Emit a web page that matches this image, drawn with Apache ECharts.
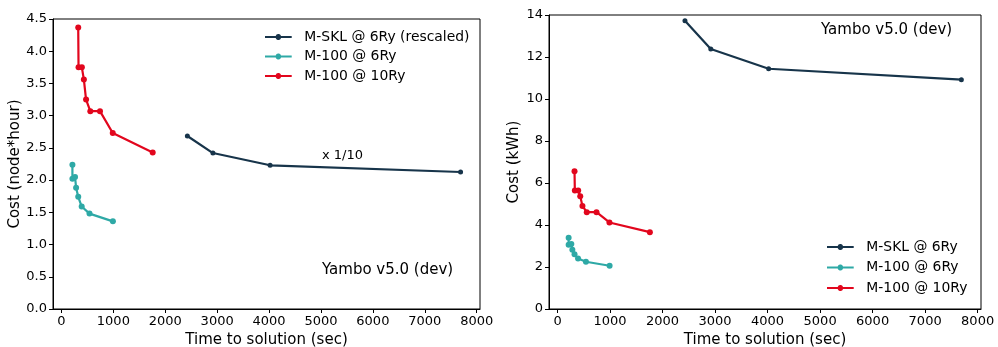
<!DOCTYPE html>
<html>
<head>
<meta charset="utf-8">
<script src="https://cdn.jsdelivr.net/npm/echarts@6/dist/echarts.min.js"></script>
<style>
  html, body { margin: 0; padding: 0; background: #fff; }
  #chart { width: 998px; height: 347px; }
</style>
</head>
<body>
<div id="chart"></div>
<script>
// Time to solution (sec) for each run
const sklTime = [2426, 2918, 4020, 7690];
const m100Ry6Time = [211, 211, 262, 282, 323, 390, 540, 991];
const m100Ry10Time = [323, 329, 393, 432, 474, 556, 742, 988, 1758];

// Cost in node*hour (M-SKL values rescaled by 1/10)
const sklNodeHour = [2.685, 2.42, 2.23, 2.126];
const m100Ry6NodeHour = [2.24, 2.02, 2.05, 1.88, 1.74, 1.59, 1.48, 1.36];
const m100Ry10NodeHour = [4.37, 3.75, 3.75, 3.56, 3.25, 3.07, 3.07, 2.73, 2.43];

// Cost in kWh
const sklKwh = [13.73, 12.38, 11.44, 10.92];
const m100Ry6Kwh = [3.39, 3.06, 3.10, 2.82, 2.61, 2.40, 2.25, 2.06];
const m100Ry10Kwh = [6.56, 5.64, 5.64, 5.37, 4.91, 4.61, 4.61, 4.12, 3.66];

const xTicks = [0, 1000, 2000, 3000, 4000, 5000, 6000, 7000, 8000];
const seriesNamesLeft = ['M-SKL @ 6Ry (rescaled)', 'M-100 @ 6Ry', 'M-100 @ 10Ry'];
const seriesNamesRight = ['M-SKL @ 6Ry', 'M-100 @ 6Ry', 'M-100 @ 10Ry'];

const FONT = 'DejaVu Sans';
const C_SKL = '#17344a';
const C_6RY = '#2ea9a6';
const C_10RY = '#e2061d';

const zip = (xs, ys) => xs.map((x, i) => [x, ys[i]]);

function xAxisFor(gridIndex) {
  return {
    type: 'value', gridIndex,
    min: -163, max: 8064,
    name: 'Time to solution (sec)',
    nameLocation: 'middle', nameGap: 21,
    nameTextStyle: { fontFamily: FONT, fontSize: 15, color: '#000' },
    axisLine: { show: true, onZero: false, lineStyle: { color: '#000', width: 1 } },
    axisTick: { show: true, length: 4, customValues: xTicks, lineStyle: { color: '#000' } },
    axisLabel: { customValues: xTicks, margin: 6, fontFamily: FONT, fontSize: 13, color: '#000', formatter: v => String(v) },
    splitLine: { show: false }
  };
}

function yAxisFor(gridIndex, name, max, interval, gap, fmt) {
  return {
    type: 'value', gridIndex,
    min: 0, max, interval,
    name, nameLocation: 'middle', nameGap: gap,
    nameTextStyle: { fontFamily: FONT, fontSize: 15, color: '#000' },
    axisLine: { show: true, onZero: false, lineStyle: { color: '#000', width: 1 } },
    axisTick: { show: true, length: 4, lineStyle: { color: '#000' } },
    axisLabel: { margin: 6, fontFamily: FONT, fontSize: 13, color: '#000', formatter: fmt },
    splitLine: { show: false }
  };
}

function lineSeries(name, color, data, axisIndex, symSize) {
  return {
    type: 'line', name, data,
    xAxisIndex: axisIndex, yAxisIndex: axisIndex,
    color,
    symbol: 'circle', symbolSize: symSize, showSymbol: true,
    lineStyle: { width: 2.2, color },
    itemStyle: { color },
    animation: false
  };
}

// legend key: short line with a dot in the middle
const legendBase = {
  orient: 'vertical',
  padding: 0,
  itemWidth: 28, itemHeight: 6,
  icon: 'path://M0,2 L11.2,2 A2.9,2.9 0 0,1 16.8,2 L28,2 L28,4 L16.8,4 A2.9,2.9 0 0,1 11.2,4 L0,4 Z',
  textStyle: { fontFamily: FONT, fontSize: 13.9, color: '#000', padding: [0, 0, 0, 7] },
  selectedMode: false
};

const option = {
  backgroundColor: '#fff',
  animation: false,
  grid: [
    { left: 53, top: 19, width: 427, height: 290, show: true, borderColor: '#000', borderWidth: 1,
      backgroundColor: 'transparent', outerBoundsMode: 'none', containLabel: false },
    { left: 549, top: 15, width: 432, height: 294, show: true, borderColor: '#000', borderWidth: 1,
      backgroundColor: 'transparent', outerBoundsMode: 'none', containLabel: false }
  ],
  xAxis: [xAxisFor(0), xAxisFor(1)],
  yAxis: [
    yAxisFor(0, 'Cost (node*hour)', 4.5, 0.5, 30, v => v.toFixed(1)),
    yAxisFor(1, 'Cost (kWh)', 14, 2, 27, v => String(v))
  ],
  legend: [
    Object.assign({}, legendBase, { left: 265, top: 30, itemGap: 5.5, data: seriesNamesLeft }),
    Object.assign({}, legendBase, { left: 827, top: 240, itemGap: 6.5, data: seriesNamesRight })
  ],
  series: [
    lineSeries(seriesNamesLeft[0], C_SKL, zip(sklTime, sklNodeHour), 0, 5),
    lineSeries(seriesNamesLeft[1], C_6RY, zip(m100Ry6Time, m100Ry6NodeHour), 0, 6),
    lineSeries(seriesNamesLeft[2], C_10RY, zip(m100Ry10Time, m100Ry10NodeHour), 0, 6),
    lineSeries(seriesNamesRight[0], C_SKL, zip(sklTime, sklKwh), 1, 5),
    lineSeries(seriesNamesRight[1], C_6RY, zip(m100Ry6Time, m100Ry6Kwh), 1, 6),
    lineSeries(seriesNamesRight[2], C_10RY, zip(m100Ry10Time, m100Ry10Kwh), 1, 6)
  ],
  graphic: [
    { type: 'text', left: 322, top: 149, style: { text: 'x 1/10', font: '13px "DejaVu Sans"', fill: '#000' } },
    { type: 'text', left: 322, top: 263, style: { text: 'Yambo v5.0 (dev)', font: '15px "DejaVu Sans"', fill: '#000' } },
    { type: 'text', left: 821, top: 23, style: { text: 'Yambo v5.0 (dev)', font: '15px "DejaVu Sans"', fill: '#000' } }
  ]
};

const chart = echarts.init(document.getElementById('chart'), null, { renderer: 'canvas' });
chart.setOption(option);
</script>
</body>
</html>
